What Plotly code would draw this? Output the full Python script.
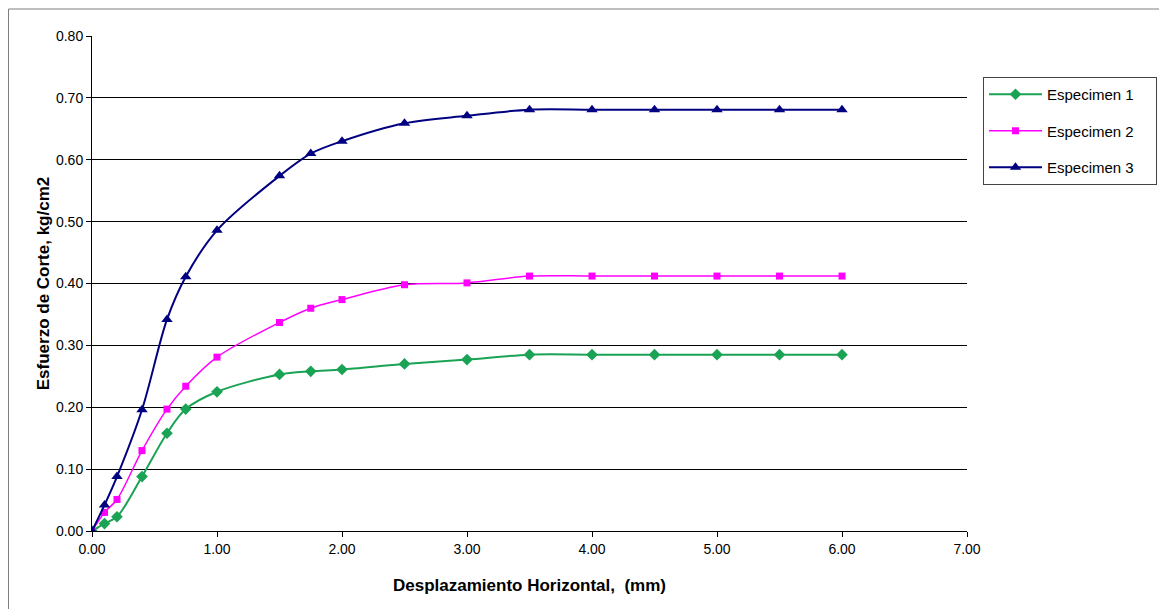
import plotly.graph_objects as go

desplazamiento = [0, 0.1, 0.2, 0.4, 0.6, 0.75, 1.0, 1.5, 1.75, 2.0, 2.5, 3.0, 3.5, 4.0, 4.5, 5.0, 5.5, 6.0]
especimen1 = [0, 0.012, 0.023, 0.088, 0.158, 0.197, 0.225, 0.253, 0.258, 0.261, 0.270, 0.277, 0.285, 0.285, 0.285, 0.285, 0.285, 0.285]
especimen2 = [0, 0.030, 0.051, 0.130, 0.197, 0.234, 0.281, 0.337, 0.360, 0.374, 0.398, 0.401, 0.412, 0.412, 0.412, 0.412, 0.412, 0.412]
especimen3 = [0, 0.042, 0.088, 0.196, 0.342, 0.411, 0.486, 0.574, 0.610, 0.630, 0.659, 0.671, 0.681, 0.681, 0.681, 0.681, 0.681, 0.681]

x_ticks = [0, 1, 2, 3, 4, 5, 6, 7]
x_ticktext = ["0.00", "1.00", "2.00", "3.00", "4.00", "5.00", "6.00", "7.00"]
y_ticks = [0, 0.1, 0.2, 0.3, 0.4, 0.5, 0.6, 0.7, 0.8]
y_ticktext = ["0.00", "0.10", "0.20", "0.30", "0.40", "0.50", "0.60", "0.70", "0.80"]

series = [
    ("Especimen 1", especimen1, "#1BA355", "diamond", 9, 2),
    ("Especimen 2", especimen2, "#FF00FF", "square", 7, 1.5),
    ("Especimen 3", especimen3, "#000080", "triangle-up", 10, 2),
]

fig = go.Figure()
for name, ys, color, sym, sz, lw in series:
    fig.add_trace(go.Scatter(
        x=desplazamiento, y=ys, name=name + "\u00a0" * 4, legendgroup=name,
        mode="lines+markers",
        line=dict(color=color, width=lw, shape="spline", smoothing=0.9),
        marker=dict(symbol=sym, size=sz, color=color),
    ))

W, H = 1159, 601
L, R, T, B = 84, 200, 28, 78

fig.update_layout(
    width=W, height=H,
    paper_bgcolor="white", plot_bgcolor="white",
    font=dict(family="Liberation Sans, Arial, sans-serif", size=14, color="black"),
    margin=dict(l=L, r=R, t=T, b=B, pad=0, autoexpand=False),
    showlegend=True,
    legend=dict(
        xref="container", yref="container",
        x=975 / W, y=1 - 69 / H, xanchor="left", yanchor="top",
        bordercolor="#444444", borderwidth=1,
        font=dict(size=15), tracegroupgap=14, traceorder="grouped",
        itemwidth=53,
    ),
    shapes=[dict(type="rect", xref="paper", yref="paper", layer="above",
                 x0=(0.5 - L) / (W - L - R), x1=2.0, y0=-1.0,
                 y1=1 + (T - 1) / (H - T - B),
                 line=dict(color="#7f7f7f", width=1))],
)
fig.update_xaxes(
    range=[0, 7], tickvals=x_ticks, ticktext=x_ticktext,
    showgrid=False, showline=True, linecolor="black", linewidth=1,
    ticks="outside", ticklen=5, tickcolor="black", zeroline=False,
    title=dict(text="<b>Desplazamiento Horizontal,  (mm)</b>", font=dict(size=17), standoff=23),
)
fig.update_yaxes(
    range=[0, 0.8], tickvals=y_ticks, ticktext=y_ticktext,
    showgrid=True, gridcolor="black", gridwidth=1,
    showline=True, linecolor="black", linewidth=1,
    ticks="outside", ticklen=5, tickcolor="black", zeroline=False,
    title=dict(text="<b>Esfuerzo de Corte, kg/cm2</b>", font=dict(size=17), standoff=2),
)
fig.write_html("out.html")
